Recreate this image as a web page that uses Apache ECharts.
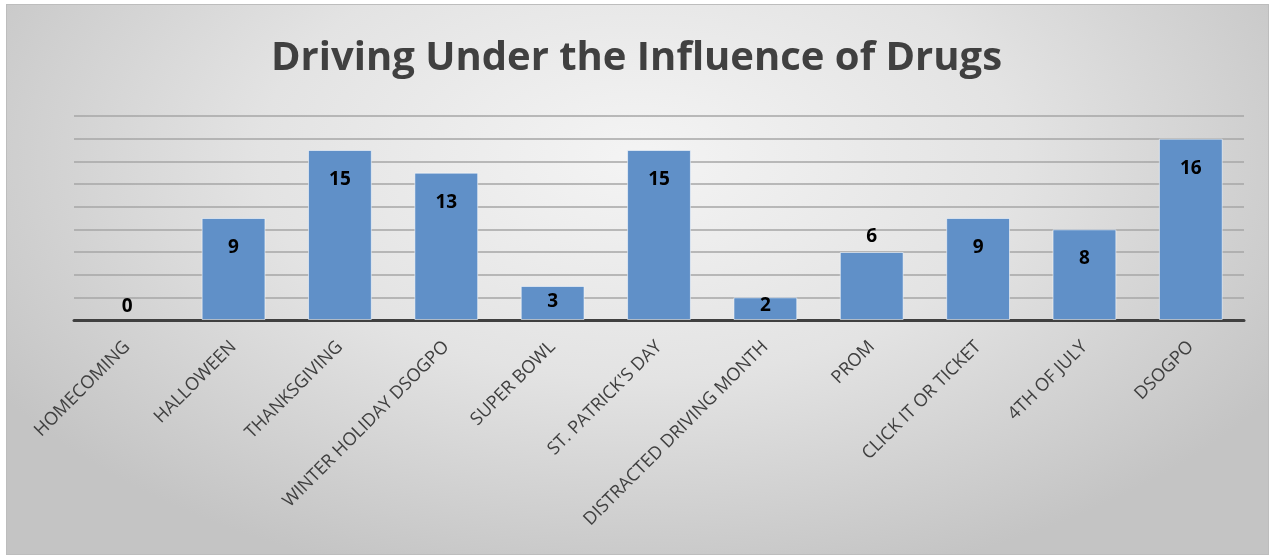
<!DOCTYPE html>
<html>
<head>
<meta charset="utf-8" />
<title>Driving Under the Influence of Drugs</title>
<script src="https://cdn.jsdelivr.net/npm/echarts@6/dist/echarts.min.js"></script>
<style>
    html, body { margin: 0; padding: 0; background: #ffffff; }
    #wrap {
        position: absolute; left: 6px; top: 4px; width: 1261px; height: 549px;
        border: 1px solid #bdbdbd;
        background: radial-gradient(ellipse 60% 80% at 50% 28%, #f4f4f4 0%, #e3e3e3 50%, #c4c4c4 100%);
    }
    #chart { position: absolute; left: 0; top: 0; width: 1273px; height: 555px; }
</style>
</head>
<body>
<div id="wrap"></div>
<div id="chart"></div>
<script type="text/javascript">
    // categories and counts
    var categories = ['HOMECOMING', 'HALLOWEEN', 'THANKSGIVING', 'WINTER HOLIDAY DSOGPO', 'SUPER BOWL',
        "ST. PATRICK'S DAY", 'DISTRACTED DRIVING MONTH', 'PROM', 'CLICK IT OR TICKET', '4TH OF JULY', 'DSOGPO'];
    var counts = [0, 9, 15, 13, 3, 15, 2, 6, 9, 8, 16];

    // label placement for the short bars (the rest sit inside the top)
    var labelFix = {
        0: { position: 'top', distance: 4 },
        4: { position: 'insideTop', distance: 6 },
        6: { position: 'insideTop', distance: -1 },
        7: { position: 'top', distance: 6 }
    };

    var barData = counts.map(function (v, i) {
        var item = { value: v };
        if (labelFix[i]) item.label = labelFix[i];
        if (v === 0) item.itemStyle = { borderWidth: 0 };
        return item;
    });

    var myChart = echarts.init(document.getElementById('chart'));

    myChart.setOption({
        animation: false,
        title: {
            text: 'Driving Under the Influence of Drugs',
            left: 'center',
            top: 34,
            textStyle: {
                fontFamily: 'Open Sans',
                fontWeight: 'bold',
                fontSize: 40,
                color: '#404040'
            }
        },
        grid: {
            left: 74,
            right: 29,
            top: 116,
            bottom: 235
        },
        xAxis: {
            type: 'category',
            data: categories,
            axisLine: { show: true, lineStyle: { color: '#404040', width: 3 } },
            axisTick: { show: false },
            axisLabel: {
                interval: 0,
                rotate: 45,
                margin: 24,
                color: '#404040',
                fontFamily: 'Open Sans',
                fontSize: 18
            }
        },
        yAxis: {
            type: 'value',
            min: 0,
            max: 18,
            interval: 2,
            axisLabel: { show: false },
            axisLine: { show: false },
            axisTick: { show: false },
            splitLine: { lineStyle: { color: '#a6a6a6', width: 1.5 } }
        },
        series: [{
            type: 'bar',
            data: barData,
            barCategoryGap: '40%',
            itemStyle: {
                color: '#6090c8',
                borderColor: 'rgba(255,255,255,0.55)',
                borderWidth: 1
            },
            label: {
                show: true,
                position: 'insideTop',
                distance: 20,
                color: '#000000',
                fontFamily: 'Open Sans',
                fontWeight: 'bold',
                fontSize: 19
            }
        }]
    });
</script>
</body>
</html>
